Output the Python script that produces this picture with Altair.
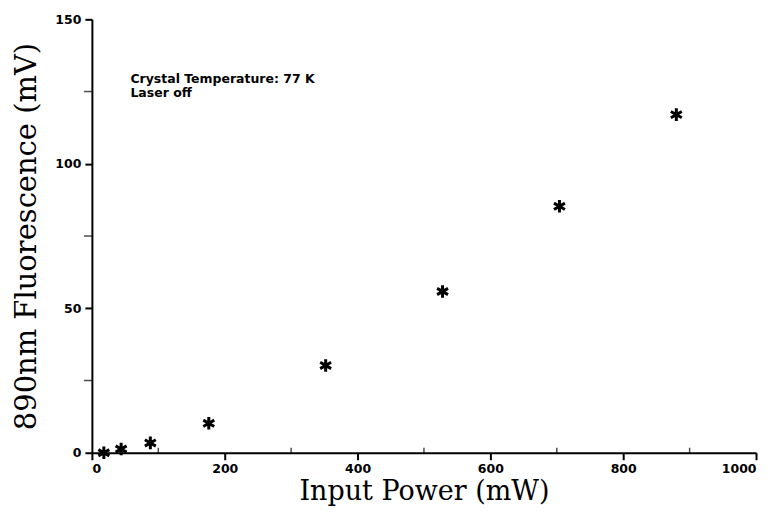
import altair as alt
import pandas as pd

power_mw = [18, 44, 88, 176, 352, 528, 704, 880]
fluor_mv = [0.0, 1.3, 3.4, 10.2, 30.2, 55.8, 85.3, 117.0]
annotation = ["Crystal Temperature: 77 K", "Laser off"]

df = pd.DataFrame({"power": power_mw, "fluor": fluor_mv})

asterisk = "M0,-1L0,1M-0.866,-0.5L0.866,0.5M-0.866,0.5L0.866,-0.5"

points = alt.Chart(df).mark_point(
    shape=asterisk, filled=False, stroke="black", strokeWidth=3, size=160, opacity=1
).encode(
    x=alt.X("power:Q", scale=alt.Scale(domain=[0, 1000], nice=False),
            axis=alt.Axis(title="Input Power (mW)", values=[0, 200, 400, 600, 800, 1000],
                          format="d")),
    y=alt.Y("fluor:Q", scale=alt.Scale(domain=[0, 150], nice=False),
            axis=alt.Axis(title="890nm Fluorescence (mV)", values=[0, 50, 100, 150],
                          format="d")),
)

minor_x = alt.Chart(pd.DataFrame({"v": [100, 300, 500, 700, 900]})).mark_tick(
    color="black", thickness=1.5, size=6
).encode(x="v:Q", y=alt.value(432))

minor_y = alt.Chart(pd.DataFrame({"v": [25, 75, 125]})).mark_tick(
    color="black", thickness=1.5, size=8
).encode(y="v:Q", x=alt.value(-4))

note = alt.Chart(pd.DataFrame({"t": [annotation]})).mark_text(
    align="left", baseline="middle", font="DejaVu Sans", fontWeight="bold",
    fontSize=12.5, lineHeight=14, color="black"
).encode(x=alt.datum(58), y=alt.datum(129.5), text="t:N")

chart = alt.layer(points, minor_x, minor_y, note).properties(
    width=665, height=434,
    autosize=alt.AutoSizeParams(type="none"),
    padding={"left": 84, "top": 11, "right": 20, "bottom": 59},
).configure_view(stroke=None).configure_axis(
    grid=False, domainColor="black", domainWidth=2, tickColor="black", tickWidth=2,
    tickSize=7, labelFont="DejaVu Sans", labelFontWeight="bold", labelFontSize=12.5,
    labelColor="black", titleFont="DejaVu Serif", titleFontWeight="normal",
    titleColor="black",
).configure_axisX(titlePadding=3, labelPadding=3, titleFontSize=27).configure_axisY(
    titlePadding=13, labelPadding=4, titleFontSize=29)

chart.save("out.html", embed_options={"renderer": "svg", "actions": False})
